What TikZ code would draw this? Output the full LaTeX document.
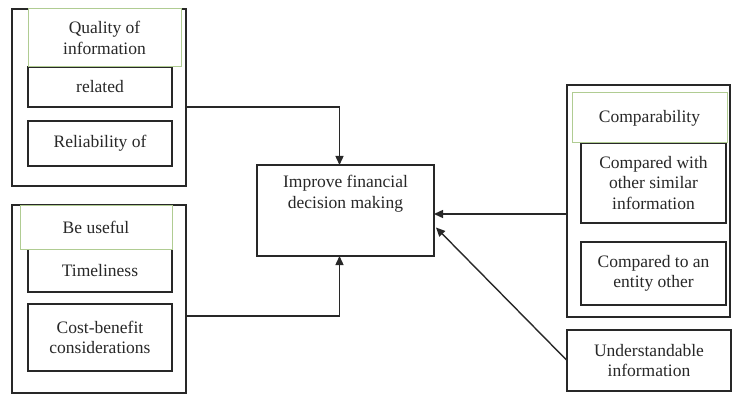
\documentclass[tikz,border=0pt]{standalone}
\usepackage{fontspec}
\setmainfont{Liberation Serif}
\usetikzlibrary{arrows.meta}
\usetikzlibrary{calc}

\definecolor{headgreen}{RGB}{176,204,146}
\definecolor{inkgray}{RGB}{40,40,40}
\newcommand{\boxfont}{\fontsize{17.5}{20.5}\selectfont}

\begin{document}
\begin{tikzpicture}[x=1pt,y=-1pt]
\tikzset{
    group/.style={
        draw=inkgray,
        line width=1.4pt,
        inner sep=0pt,
        outer sep=0pt,
        minimum width=#1
    },
    item/.style={
        draw=inkgray,
        line width=1.3pt,
        fill=white,
        inner sep=2pt,
        outer sep=0pt,
        align=center,
        text=inkgray,
        font=\boxfont
    },
    header/.style={
        item,
        draw=headgreen,
        line width=1pt
    },
    flow/.style={
        draw=inkgray,
        line width=1.4pt,
        -{Triangle[length=9pt,width=8pt]}
    }
}
\useasboundingbox (0,0) rectangle (732,396);

% quality group, top left
\node[group=174pt, minimum height=177pt] (qualgroup) at (99,97.5) {};
\node[item, minimum width=144pt, minimum height=40pt] (related) at (100,87) {related};
\node[item, minimum width=144pt, minimum height=45pt] (reliab) at (100,143.5) {Reliability of};
\node[header, minimum width=153pt, minimum height=58pt] (qualhead) at (104.5,38) {Quality of\\information};

% usefulness group, bottom left
\node[group=174pt, minimum height=188pt] (usegroup) at (99,299) {};
\node[item, minimum width=144pt, minimum height=43pt] (timely) at (100,270.5) {Timeliness};
\node[item, minimum width=144pt, minimum height=67pt] (cost) at (100,337.5) {Cost-benefit\\considerations};
\node[header, minimum width=152pt, minimum height=44pt] (usehead) at (96,227) {Be useful};

% goal in the middle
\node[item, minimum width=177pt, minimum height=91pt,
      label={[anchor=north, inner sep=0pt, yshift=-10pt, align=center,
              text=inkgray, font=\boxfont]north:Improve financial\\decision making}]
      (decide) at (345.5,210.5) {};

% comparability group, right
\node[group=163pt, minimum height=232pt] (compgroup) at (648.5,201) {};
\node[item, minimum width=145pt, minimum height=80pt] (similar) at (653.5,183) {Compared with\\other similar\\information};
\node[item, minimum width=145pt, minimum height=63pt] (entity) at (653.5,273.5) {Compared to an\\entity other};
\node[header, minimum width=155pt, minimum height=50pt] (comphead) at (649.5,118) {Comparability};

\node[item, minimum width=164pt, minimum height=61pt] (understand) at (649,360.5) {Understandable\\information};

% connectors
\coordinate (qualfrom) at (qualgroup.east |- related.south);
\coordinate (usefrom) at ($(usegroup.east |- cost.north)+(0,12)$);
\coordinate (compfrom) at ($(compgroup.west)+(0,13)$);
\draw[flow] (qualfrom) -| ($(decide.north)+(-6,0)$);
\draw[flow] (usefrom) -| ($(decide.south)+(-6,0)$);
\draw[flow] (compfrom) -- (decide.east |- compfrom);
\draw[flow] (understand.west) -- ($(decide.east)+(2,17)$);
\end{tikzpicture}
\end{document}
